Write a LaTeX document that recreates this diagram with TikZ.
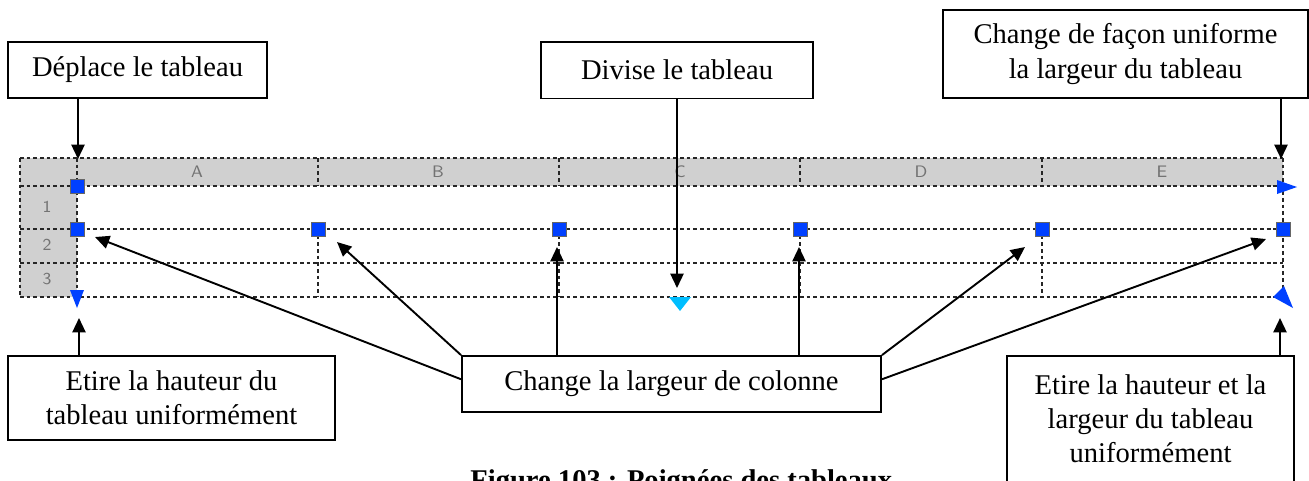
\documentclass[tikz,border=0pt]{standalone}
\usepackage{fontspec}
\setmainfont{Liberation Serif}
\usepackage{tikz}
\usetikzlibrary{arrows.meta}
\usepackage{xcolor}
\definecolor{bleupoignee}{RGB}{0,64,255}
\definecolor{cyanpoignee}{RGB}{0,190,255}
\definecolor{grisentete}{RGB}{208,208,208}

\begin{document}
\begin{tikzpicture}[x=0.42pt, y=-0.42pt,
        boite/.style={draw, line width=0.8pt, align=center, inner sep=0pt, font=\fontsize{12}{14.3}\selectfont},
        fleche/.style={-{Triangle[length=6pt,width=5.5pt]}, line width=0.8pt},
        pointille/.style={dash pattern=on 1.6pt off 1.2pt, line width=0.55pt, black!85},
        poignee/.style={draw=black!60, fill=bleupoignee, minimum size=5.9pt, inner sep=0pt, line width=0.4pt},
        entete/.style={font=\sffamily\scriptsize, text=black!55}]
        \useasboundingbox (0,0) rectangle (1309,480);
        \clip (0,0) rectangle (1309,480);

        % Fond gris des entêtes
        \fill[grisentete] (20,158) rectangle (1283,186);
        \fill[grisentete] (20,186) rectangle (77,297);

        % Lignes du tableau
        \foreach \y in {158,186,229,263,297}
            \draw[pointille] (20,\y) -- (1283,\y);
        \foreach \x in {20,77,1283}
            \draw[pointille] (\x,158) -- (\x,297);
        \foreach \x in {318,559,800,1042} {
            \draw[pointille] (\x,158) -- (\x,186);
            \draw[pointille] (\x,229) -- (\x,297);
        }

        % Lettres des colonnes et numéros des lignes
        \foreach \x/\l in {197/A,438/B,680/C,921/D,1162/E}
            \node[entete] (col\l) at (\x,172) {\l};
        \foreach \y/\l in {207/1,245/2,279/3}
            \node[entete] (lig\l) at (47,\y) {\l};

        % Triangles de redimensionnement
        \fill[bleupoignee] (70,290) -- (84,290) -- (77,308) -- cycle;
        \fill[bleupoignee] (1277,180) -- (1297,187) -- (1277,194) -- cycle;
        \fill[bleupoignee] (1273,297) -- (1284,286) -- (1293,308) -- cycle;
        \fill[cyanpoignee] (669,297) -- (691,297) -- (680,311) -- cycle;

        % Poignées
        \node[poignee] (p0) at (77,186) {};
        \foreach \x [count=\i] in {77,318,559,800,1042,1283}
            \node[poignee] (p\i) at (\x,229) {};

        % Boîtes de texte
        \node[boite, minimum width=108.8pt, minimum height=23.5pt] (deplace) at (137.5,70) {Déplace le tableau};
        \node[boite, minimum width=114.2pt, minimum height=23.9pt] (divise) at (677,70) {Divise le tableau};
        \node[boite, minimum width=153.3pt, minimum height=37pt] (facon) at (1125.5,54) {Change de façon uniforme\\la largeur du tableau};
        \node[boite, minimum width=137.3pt, minimum height=35.3pt] (etireh) at (171.5,398) {Etire la hauteur du\\tableau uniformément};
        \node[boite, minimum width=176pt, minimum height=23.5pt] (colonne) at (671.5,384) {Change la largeur de colonne};
        \node[boite, minimum width=120.5pt, minimum height=52.9pt] (etirehl) at (1150.5,419) {Etire la hauteur et la\\largeur du tableau\\uniformément};

        % Pointes des flèches
        \coordinate (c1) at (78,159);
        \coordinate (c2) at (677,288);
        \coordinate (c3) at (1281,159);
        \coordinate (c4) at (79,318);
        \coordinate (c5) at (1280,318);
        \coordinate (t1) at (95,237);
        \coordinate (t2) at (337,242);
        \coordinate (t3) at (557,247);
        \coordinate (t4) at (799,247);
        \coordinate (t5) at (1025,247);
        \coordinate (t6) at (1266,239);

        % Flèches
        \draw[fleche] (deplace.south -| c1) -- (c1);
        \draw[fleche] (divise.south -| c2) -- (c2);
        \draw[fleche] (facon.south -| c3) -- (c3);
        \draw[fleche] (etireh.north -| c4) -- (c4);
        \draw[fleche] (etirehl.north -| c5) -- (c5);
        \draw[fleche] ([yshift=2pt]colonne.west) -- (t1);
        \draw[fleche] (colonne.north west) -- (t2);
        \draw[fleche] (colonne.north -| t3) -- (t3);
        \draw[fleche] (colonne.north -| t4) -- (t4);
        \draw[fleche] (colonne.north east) -- (t5);
        \draw[fleche] ([yshift=2pt]colonne.east) -- (t6);

        % Légende
        \node[font=\bfseries\fontsize{12}{14.3}\selectfont, anchor=base west] (legende) at (462,489) {Figure 103 : Poignées des tableaux};
    \end{tikzpicture}
\end{document}
